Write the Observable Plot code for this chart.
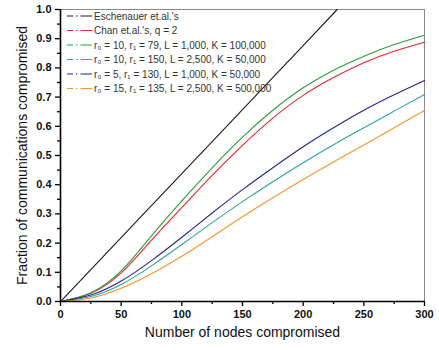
<!DOCTYPE html>
<html>
<head>
<meta charset="utf-8">
<script src="https://cdn.jsdelivr.net/npm/d3@7"></script>
<script src="https://cdn.jsdelivr.net/npm/@observablehq/plot@0.6"></script>
<style>
  html, body { margin: 0; padding: 0; background: #fff; }
  #chart svg { display: block; }
</style>
</head>
<body>
<div id="chart"></div>
<script>
// ---- data ----
const nodes = [0, 25, 50, 75, 100, 125, 150, 175, 200, 225, 250, 275, 300];
const eschX = [0, 50, 100, 150, 200, 228];
const eschY = [0, 0.219, 0.438, 0.657, 0.876, 1.0];
const chanQ2 = [0, 0.028, 0.098, 0.21, 0.322, 0.432, 0.535, 0.628, 0.706, 0.767, 0.818, 0.857, 0.888];
const r10_79 = [0, 0.03, 0.105, 0.225, 0.345, 0.458, 0.563, 0.655, 0.732, 0.792, 0.84, 0.88, 0.912];
const r10_150 = [0, 0.017, 0.058, 0.122, 0.195, 0.27, 0.342, 0.41, 0.475, 0.537, 0.595, 0.652, 0.709];
const r5_130 = [0, 0.022, 0.07, 0.14, 0.22, 0.303, 0.383, 0.458, 0.53, 0.595, 0.655, 0.708, 0.757];
const r15_135 = [0, 0.012, 0.045, 0.095, 0.155, 0.222, 0.29, 0.355, 0.418, 0.478, 0.536, 0.595, 0.654];

const seriesNames = [
  "Eschenauer et.al.'s",
  "Chan et.al.'s, q = 2",
  "r\u2080 = 10, r\u2081 = 79, L = 1,000, K = 100,000",
  "r\u2080 = 10, r\u2081 = 150, L = 2,500, K = 50,000",
  "r\u2080 = 5, r\u2081 = 130, L = 1,000, K = 50,000",
  "r\u2080 = 15, r\u2081 = 135, L = 2,500, K = 500,000"
];
const seriesColors = ["#1a1a1a", "#e3262f", "#2f9a3e", "#2fa3a0", "#23238f", "#f2952f"];

const xTicks = [0, 50, 100, 150, 200, 250, 300];
const xMinor = [25, 75, 125, 175, 225, 275];
const yTicks = [0, 0.1, 0.2, 0.3, 0.4, 0.5, 0.6, 0.7, 0.8, 0.9, 1.0];
const yMinor = [0.05, 0.15, 0.25, 0.35, 0.45, 0.55, 0.65, 0.75, 0.85, 0.95];

// ---- build table ----
const rows = [];
eschX.forEach((x, i) => rows.push({series: seriesNames[0], x, y: eschY[i]}));
const curveSets = [chanQ2, r10_79, r10_150, r5_130, r15_135];
curveSets.forEach((vals, k) => nodes.forEach((x, i) => rows.push({series: seriesNames[k + 1], x, y: vals[i]})));

const font = "'Liberation Sans', Arial, Helvetica, sans-serif";

const chart = Plot.plot({
  width: 439,
  height: 350,
  marginLeft: 60,
  marginRight: 15,
  marginTop: 9,
  marginBottom: 49,
  style: {fontFamily: font, fontSize: "11px", color: "#111", background: "#fff"},
  x: {domain: [0, 300]},
  y: {domain: [0, 1]},
  color: {domain: seriesNames, range: seriesColors},
  marks: [
    Plot.frame({stroke: "#8a8a8a", strokeWidth: 1}),
    Plot.line(rows, {x: "x", y: "y", z: "series", stroke: "series", strokeWidth: 1.1, curve: "natural"}),
    Plot.axisX({ticks: xTicks, tickSize: 5, tickPadding: 4, tickFormat: d => String(d), fontWeight: "bold", label: null, stroke: "#000", strokeWidth: 1.3}),
    Plot.axisX({ticks: xMinor, tickSize: 3, tickFormat: () => "", label: null, stroke: "#000", strokeWidth: 1.3}),
    Plot.axisY({ticks: yTicks, tickSize: 5, tickPadding: 4, tickFormat: d => d.toFixed(1), fontWeight: "bold", label: null, stroke: "#000", strokeWidth: 1.3}),
    Plot.axisY({ticks: yMinor, tickSize: 3, tickFormat: () => "", label: null, stroke: "#000", strokeWidth: 1.3}),
    Plot.ruleX([0], {stroke: "#000", strokeWidth: 1.6}),
    Plot.ruleY([0], {stroke: "#000", strokeWidth: 1.6}),
    Plot.text(["Fraction of communications compromised"], {text: d => d, frameAnchor: "left", textAnchor: "middle", lineAnchor: "middle", rotate: -90, dx: -38, fontSize: 14, fill: "#111"}),
    Plot.text(["Number of nodes compromised"], {text: d => d, frameAnchor: "bottom", textAnchor: "middle", lineAnchor: "middle", dy: 31, fontSize: 14, fill: "#111"})
  ]
});

// ---- legend (inside the plot, top-left) ----
const svg = d3.select(chart);
const lg = svg.append("g").attr("font-family", font).attr("font-size", 10).attr("text-anchor", "start");
seriesNames.forEach((name, i) => {
  const yy = 16 + i * 14.5;
  lg.append("line").attr("x1", 67).attr("x2", 92).attr("y1", yy).attr("y2", yy)
    .attr("stroke", seriesColors[i]).attr("stroke-width", 1.1)
    .attr("stroke-dasharray", "6,3,1.5,3,12");
  lg.append("text").attr("x", 94).attr("y", yy).attr("dy", "0.35em")
    .attr("text-anchor", "start").attr("fill", "#333").text(name);
});

document.getElementById("chart").appendChild(chart);
</script>
</body>
</html>
